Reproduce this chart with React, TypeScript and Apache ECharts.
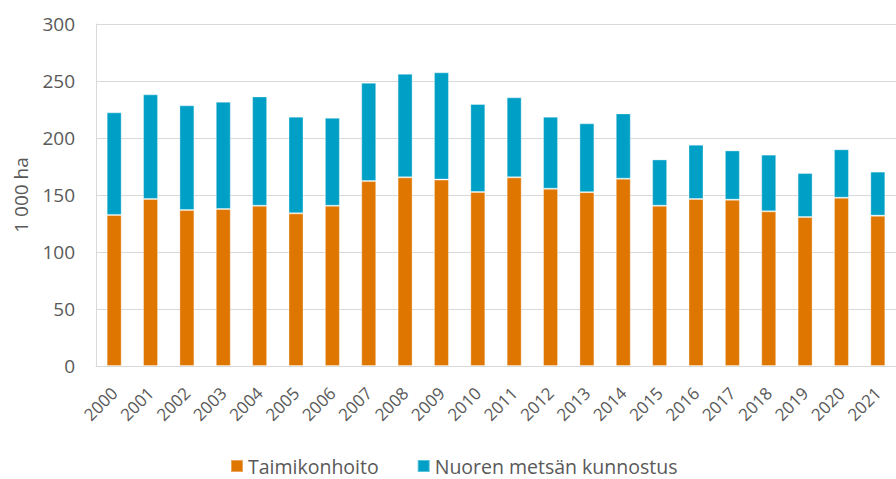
import React, { useEffect, useRef } from "react";
import * as echarts from "echarts";

const years = ["2000","2001","2002","2003","2004","2005","2006","2007","2008","2009","2010","2011","2012","2013","2014","2015","2016","2017","2018","2019","2020","2021"];
const taimikonhoito = [132.5,146.5,136.8,137.7,140.6,133.9,140.6,162.3,165.5,163.5,152.6,165.5,155.5,152.5,164.3,140.6,146.5,145.9,135.7,130.7,147.6,131.9];
const nuorenMetsan = [90.0,91.8,91.9,94.2,95.9,84.8,77.2,86.2,90.9,94.1,77.2,70.2,63.2,60.4,57.3,40.6,47.6,43.2,49.7,38.6,42.5,38.6];
const yTicks = { min: 0, max: 300, interval: 50 };

const FONT = "'Open Sans', 'Noto Sans', sans-serif";
const TEXT = "#595959";

export default function App() {
  const ref = useRef<HTMLDivElement>(null);
  useEffect(() => {
    document.body.style.margin = "0";
    const chart = echarts.init(ref.current!, null, { renderer: "svg" });
    chart.setOption({
      animation: false,
      textStyle: { fontFamily: FONT },
      grid: { left: 96, top: 24, width: 812, height: 342, containLabel: false },
      legend: {
        left: 230,
        top: 456,
        itemWidth: 12,
        itemHeight: 12,
        itemGap: 38,
        icon: "rect",
        padding: 0,
        textStyle: { fontSize: 19.5, lineHeight: 18, color: TEXT, fontFamily: FONT },
        data: ["Taimikonhoito", "Nuoren metsän kunnostus"],
      },
      xAxis: {
        type: "category",
        data: years,
        axisLine: { lineStyle: { color: "#d9d9d9", width: 1 } },
        axisTick: { show: false },
        axisLabel: { interval: 0, rotate: 45, fontSize: 17, color: TEXT, fontFamily: FONT, margin: 24 },
      },
      yAxis: {
        type: "value",
        min: yTicks.min,
        max: yTicks.max,
        interval: yTicks.interval,
        name: "1 000 ha",
        nameLocation: "middle",
        nameGap: 66,
        nameTextStyle: { fontSize: 19, color: TEXT, fontFamily: FONT },
        axisLine: { show: true, lineStyle: { color: "#d9d9d9", width: 1 } },
        axisTick: { show: false },
        axisLabel: { fontSize: 19, color: TEXT, fontFamily: FONT, margin: 21 },
        splitLine: { lineStyle: { color: "#d9d9d9", width: 1 } },
      },
      series: [
        {
          name: "Taimikonhoito",
          type: "bar",
          stack: "total",
          barWidth: 15,
          data: taimikonhoito,
          itemStyle: { color: "#DF7600", borderColor: "rgba(255,255,255,0.35)", borderWidth: 1 },
        },
        {
          name: "Nuoren metsän kunnostus",
          type: "bar",
          stack: "total",
          barWidth: 15,
          data: nuorenMetsan,
          itemStyle: { color: "#00A0C6", borderColor: "rgba(255,255,255,0.35)", borderWidth: 1 },
        },
      ],
    });
    return () => chart.dispose();
  }, []);
  return <div ref={ref} style={{ position: "absolute", left: 0, top: 0, width: 896, height: 479 }} />;
}
